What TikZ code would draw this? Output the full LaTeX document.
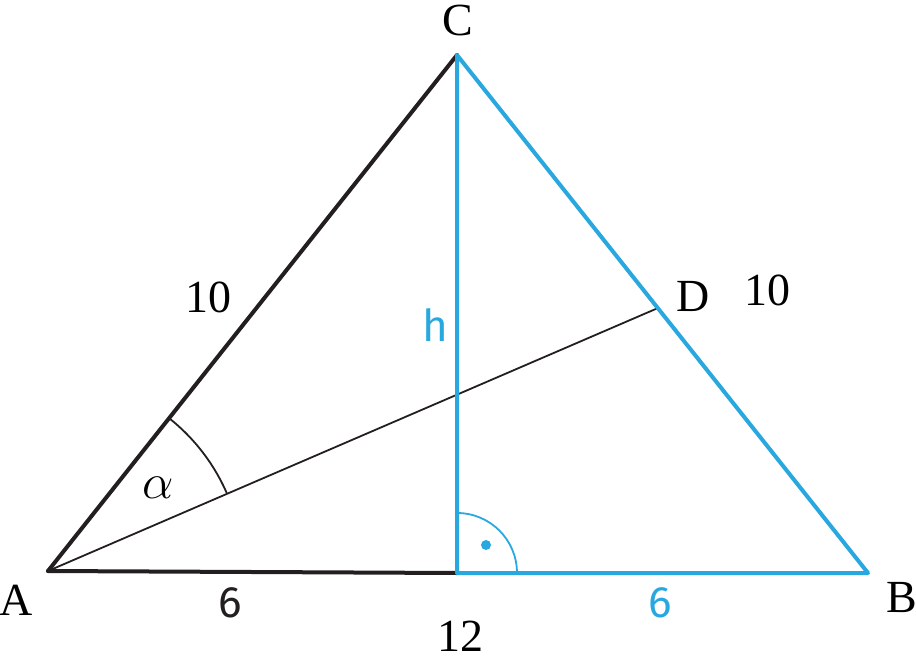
\documentclass[tikz,border=0pt]{standalone}
\usepackage{fontspec}
\setmainfont{Liberation Serif}
\newfontfamily\handfont{Fira Sans}
\usetikzlibrary{calc}
\definecolor{lineblk}{HTML}{231F20}
\definecolor{skyb}{HTML}{29A8E0}
\begin{document}
\begin{tikzpicture}[x=0.5pt,y=-0.5pt,
  thickblk/.style={draw=lineblk,line width=2pt,line cap=round,line join=round},
  thickblu/.style={draw=skyb,line width=2pt,line cap=round,line join=round},
  thinblk/.style={draw=lineblk,line width=0.9pt},
  thinblu/.style={draw=skyb,line width=0.9pt},
  lbl/.style={font=\fontsize{23}{26}\selectfont,text=black,inner sep=0pt},
  hand/.style={font=\handfont\fontsize{22}{26}\selectfont,inner sep=0pt}]
\useasboundingbox (0,0) rectangle (916,664);
\coordinate (A) at (48,571);
\coordinate (F) at (457,573);
\coordinate (B) at (868,573);
\coordinate (C) at (457,55);
\coordinate (D) at (658,308);
% edges
\draw[thickblk] (A) -- (C);
\draw[thickblk] (A) -- (F);
\draw[thinblk] (A) -- (D);
\draw[thickblu] (F) -- (C) -- (B) -- (F);
% angle arcs
\draw[thinblk] ($(A)+(-23.3:195)$) arc[start angle=-23.3,end angle=-51.7,radius=195];
\draw[thinblu] ($(F)+(0:60)$) arc[start angle=0,end angle=-90,radius=60];
\fill[skyb] (486,545) circle[radius=5];
% labels
\node[lbl] (lC) at (458,20) {C};
\node[lbl] (lA) at (16,600) {A};
\node[lbl] (lB) at (902,598) {B};
\node[lbl] (lD) at (693,296) {D};
\node[lbl] (l10a) at (208,297) {10};
\node[lbl] (l10b) at (767,290) {10};
\node[lbl] (l12) at (460,636) {12};
\node[lbl,font=\fontsize{26}{28}\selectfont] (lal) at (158,488) {$\alpha$};
\node[hand,text=lineblk] (l6a) at (230,603) {6};
\node[hand,text=skyb] (l6b) at (660,603) {6};
\node[hand,text=skyb] (lh) at (435,325) {h};
\end{tikzpicture}
\end{document}
